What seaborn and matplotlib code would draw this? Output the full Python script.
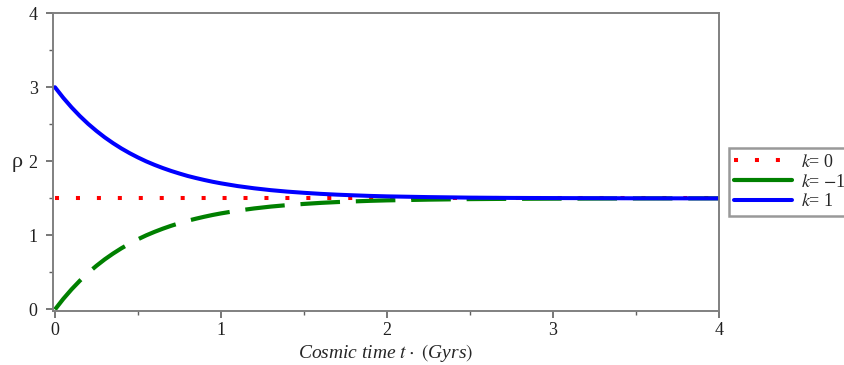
import matplotlib
matplotlib.use("Agg")
import matplotlib.pyplot as plt
from matplotlib.ticker import MultipleLocator
import seaborn as sns
import pandas as pd

# data
t_vals = [0.0, 0.05, 0.1, 0.15, 0.2, 0.25, 0.3, 0.35, 0.4, 0.45, 0.5, 0.55,
          0.6, 0.65, 0.7, 0.75, 0.8, 0.85, 0.9, 0.95, 1.0, 1.1, 1.2, 1.3,
          1.4, 1.5, 1.6, 1.7, 1.8, 1.9, 2.0, 2.25, 2.5, 2.75, 3.0, 3.5, 4.0]
rho_k1 = [3.0, 2.857, 2.728, 2.611, 2.505, 2.410, 2.323, 2.245, 2.174,
          2.110, 2.052, 1.999, 1.952, 1.909, 1.870, 1.835, 1.802, 1.774,
          1.748, 1.724, 1.703, 1.666, 1.636, 1.611, 1.591, 1.575, 1.561,
          1.550, 1.541, 1.533, 1.527, 1.517, 1.510, 1.506, 1.504, 1.501,
          1.500]
rho_km1 = [0.0, 0.143, 0.272, 0.389, 0.495, 0.590, 0.677, 0.755, 0.826,
           0.890, 0.948, 1.001, 1.048, 1.091, 1.130, 1.165, 1.198, 1.226,
           1.252, 1.276, 1.297, 1.334, 1.364, 1.389, 1.409, 1.425, 1.439,
           1.450, 1.459, 1.467, 1.473, 1.483, 1.490, 1.494, 1.496, 1.499,
           1.500]
rho_k0 = [1.5] * len(t_vals)
labels = ["$k$= 0", "$k$= $-$1", "$k$= 1"]

sns.set_style("white")
plt.rcParams["font.family"] = ["Liberation Serif", "DejaVu Serif"]
plt.rcParams["mathtext.fontset"] = "stix"

fig = plt.figure(figsize=(8.45, 3.65), dpi=100)
ax = fig.add_axes([0.0627, 0.148, 0.788, 0.816])

df = pd.DataFrame({"t": t_vals, "k0": rho_k0, "km1": rho_km1, "k1": rho_k1})

sns.lineplot(data=df, x="t", y="k0", ax=ax, color="#ff0000", lw=2.9,
             label=labels[0])
sns.lineplot(data=df, x="t", y="km1", ax=ax, color="#008000", lw=3.0,
             label=labels[1])
sns.lineplot(data=df, x="t", y="k1", ax=ax, color="#0000ff", lw=2.9,
             label=labels[2])

lines = ax.get_lines()
lines[0].set_dashes([1.0, 4.2])
lines[0].set_dash_capstyle("butt")
lines[1].set_dashes([9.5, 3.8])
lines[1].set_dash_capstyle("butt")
for ln in lines:
    ln.set_solid_joinstyle("round")

ax.set_xlim(-0.012, 4)
ax.set_ylim(-0.02, 4)
ax.xaxis.set_major_locator(MultipleLocator(1))
ax.xaxis.set_minor_locator(MultipleLocator(0.5))
ax.yaxis.set_major_locator(MultipleLocator(1))
ax.yaxis.set_minor_locator(MultipleLocator(0.5))
ax.tick_params(which="both", direction="out", color="#606060",
               bottom=True, left=True, top=False, right=False)
ax.tick_params(which="major", length=5, width=1.2, labelsize=13,
               labelcolor="#202020")
ax.tick_params(axis="y", which="major", pad=6)
ax.tick_params(axis="x", which="major", pad=3)
ax.tick_params(which="minor", length=3, width=1.0)
for s in ax.spines.values():
    s.set_color("#808080")
    s.set_linewidth(1.4)

ax.set_xlabel("Cosmic time $t\\cdot$ $($Gyrs$)$", fontsize=14, style="italic",
              labelpad=2)
ax.set_ylabel("ρ", fontsize=16, rotation=0, va="center", ha="center")
ax.yaxis.set_label_coords(-0.054, 0.5)

leg = ax.legend(loc="center left", bbox_to_anchor=(1.015, 0.433),
                fontsize=13, frameon=True, fancybox=False, handlelength=3.2,
                borderpad=0.3, labelspacing=0.15, handletextpad=0.5,
                borderaxespad=0)
leg.get_frame().set_edgecolor("#808080")
leg.get_frame().set_linewidth(1.8)
leg_lines = leg.get_lines()
leg_lines[1].set_linestyle("-")

fig.savefig("out.png", dpi=100)
